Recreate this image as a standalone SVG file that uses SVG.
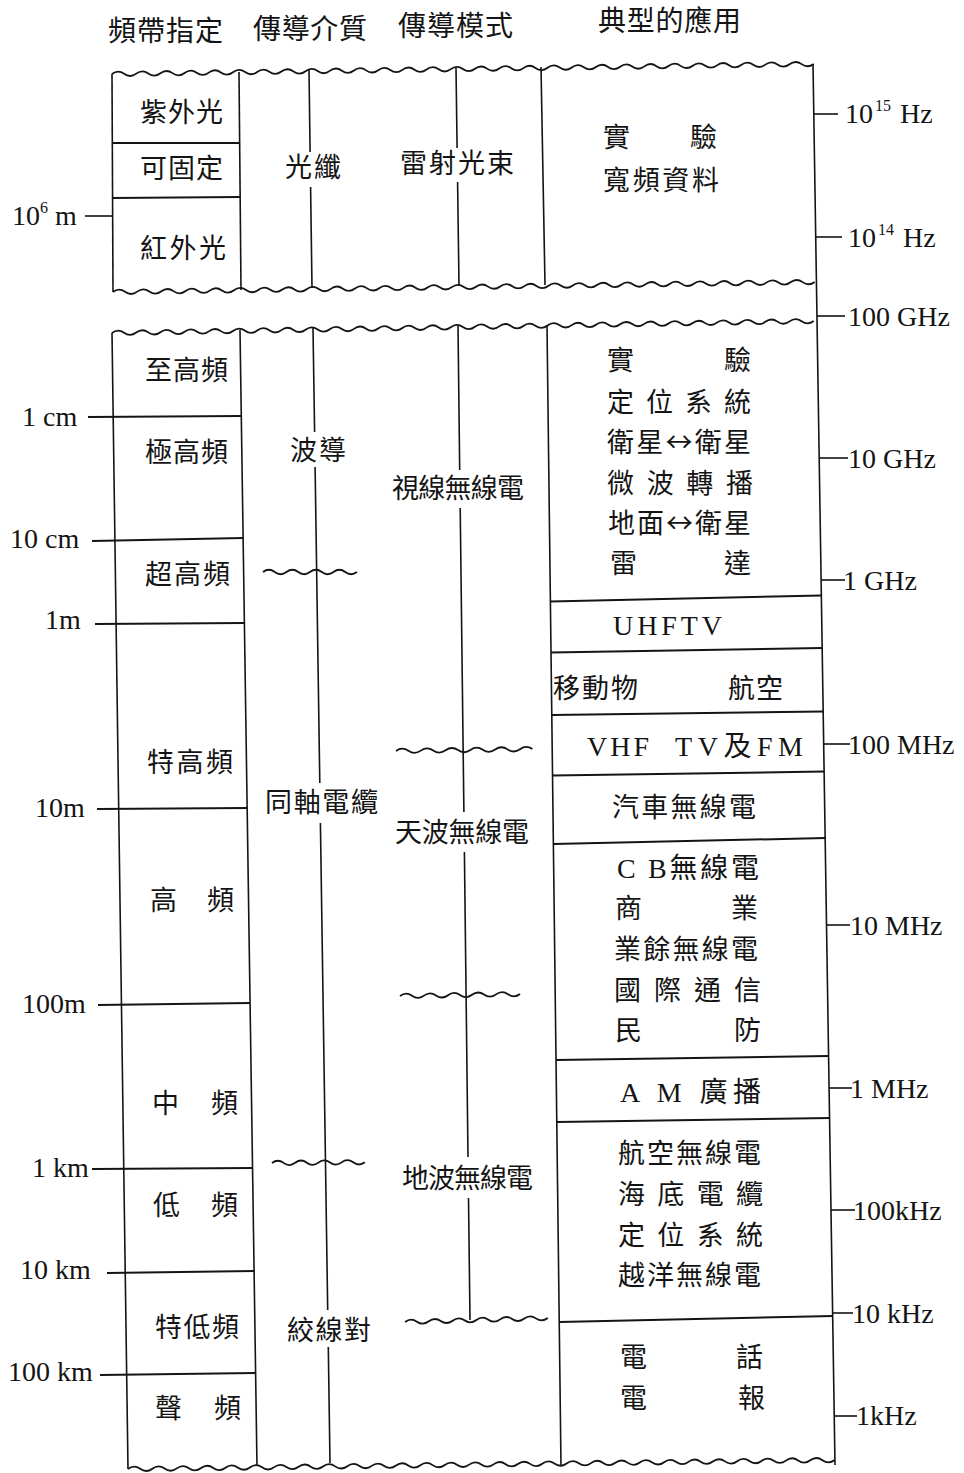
<svg xmlns="http://www.w3.org/2000/svg" xmlns:xlink="http://www.w3.org/1999/xlink" width="964" height="1473" viewBox="0 0 964 1473">
<style>
.cjk{font-family:"Noto Sans CJK TC","Noto Sans CJK SC",sans-serif;font-size:27px;fill:#141414}
.hd{font-family:"Noto Sans CJK TC","Noto Sans CJK SC",sans-serif;font-size:28px;fill:#141414}
.num{font-family:"Liberation Serif","Noto Sans CJK TC",serif;font-size:28px;fill:#141414}
.sup{font-size:16px}
.ln{stroke:#141414;stroke-width:1.6;fill:none}
.dv{stroke:#141414;stroke-width:2;fill:none}
.wv{stroke:#141414;stroke-width:1.8;fill:none}
</style>
<defs>
<path id="wvL" class="wv" d="M0,0 q6.05,-4.5 12.1,0 t12.1,0 t12.1,0 t12.1,0 t12.1,0 t12.1,0 t12.1,0 t12.1,0 t12.1,0 t12.1,0 t12.1,0 t12.1,0 t12.1,0 t12.1,0 t12.1,0 t12.1,0 t12.1,0 t12.1,0 t12.1,0 t12.1,0 t12.1,0 t12.1,0 t12.1,0 t12.1,0 t12.1,0 t12.1,0 t12.1,0 t12.1,0 t12.1,0 t12.1,0 t12.1,0 t12.1,0 t12.1,0 t12.1,0 t12.1,0 t12.1,0 t12.1,0 t12.1,0 t12.1,0 t12.1,0 t12.1,0 t12.1,0 t12.1,0 t12.1,0 t12.1,0 t12.1,0 t12.1,0 t12.1,0 t12.1,0 t12.1,0 t12.1,0 t12.1,0 t12.1,0 t12.1,0 t12.1,0 t12.1,0 t12.1,0 t12.1,0"/>
</defs>
<rect width="964" height="1473" fill="#ffffff"/>

<g id="headers">
<text class="hd" x="108" y="41" textLength="115" lengthAdjust="spacing">頻帶指定</text>
<text class="hd" x="253" y="39" textLength="114" lengthAdjust="spacing">傳導介質</text>
<text class="hd" x="398" y="36" textLength="115" lengthAdjust="spacing">傳導模式</text>
<text class="hd" x="598" y="31" textLength="143" lengthAdjust="spacing">典型的應用</text>
</g>

<g id="frame">
<use xlink:href="#wvL" href="#wvL" transform="translate(112,74) rotate(-0.82)"/>
<use xlink:href="#wvL" href="#wvL" transform="translate(113,292) rotate(-0.82)"/>
<use xlink:href="#wvL" href="#wvL" transform="translate(112,333) rotate(-0.98)"/>
<use xlink:href="#wvL" href="#wvL" transform="translate(128,1469) rotate(-0.73) scale(1.007,1)"/>
<line class="ln" x1="112" y1="74" x2="113" y2="292"/>
<line class="ln" x1="239" y1="72" x2="241" y2="290"/>
<line class="ln" x1="309" y1="70" x2="310.1" y2="152"/>
<line class="ln" x1="310.6" y1="187" x2="312" y2="288"/>
<line class="ln" x1="456" y1="68" x2="457.1" y2="148"/>
<line class="ln" x1="457.6" y1="182" x2="459" y2="286"/>
<line class="ln" x1="541" y1="67" x2="545" y2="285"/>
<line class="dv" x1="112" y1="143" x2="240" y2="143"/>
<line class="dv" x1="112" y1="198" x2="240" y2="197"/>
<line class="ln" x1="813" y1="64" x2="835" y2="1465"/>
<line class="ln" x1="112" y1="333" x2="128" y2="1469"/>
<line class="ln" x1="240" y1="330" x2="257" y2="1466"/>
<line class="ln" x1="313" y1="328" x2="314.6" y2="432"/>
<line class="ln" x1="315.1" y1="467" x2="319.8" y2="783"/>
<line class="ln" x1="320.4" y1="823" x2="327.7" y2="1310"/>
<line class="ln" x1="328.3" y1="1347" x2="330" y2="1463"/>
<line class="ln" x1="458" y1="325" x2="459.7" y2="470"/>
<line class="ln" x1="460.2" y1="508" x2="463.9" y2="812"/>
<line class="ln" x1="464.4" y1="852" x2="468" y2="1157"/>
<line class="ln" x1="468.5" y1="1198" x2="470" y2="1320"/>
<line class="ln" x1="547" y1="325" x2="561" y2="1466"/>
</g>

<g id="breaks">
<path class="wv" d="M263,572 q5.9,-4.5 11.75,0 t11.75,0 t11.75,0 t11.75,0 t11.75,0 t11.75,0 t11.75,0 t11.75,0"/>
<path class="wv" d="M396,751 q6.2,-4.5 12.4,-0.18 t12.4,-0.18 t12.4,-0.18 t12.4,-0.18 t12.4,-0.18 t12.4,-0.18 t12.4,-0.18 t12.4,-0.18 t12.4,-0.18 t12.4,-0.18 t12.4,-0.18"/>
<path class="wv" d="M400,996 q6,-4.5 12,-0.2 t12,-0.2 t12,-0.2 t12,-0.2 t12,-0.2 t12,-0.2 t12,-0.2 t12,-0.2 t12,-0.2 t12,-0.2"/>
<path class="wv" d="M272,1163 q5.8,-4.5 11.6,-0.1 t11.6,-0.1 t11.6,-0.1 t11.6,-0.1 t11.6,-0.1 t11.6,-0.1 t11.6,-0.1 t11.6,-0.1"/>
<path class="wv" d="M405,1322 q6,-4.5 11.9,-0.33 t11.9,-0.33 t11.9,-0.33 t11.9,-0.33 t11.9,-0.33 t11.9,-0.33 t11.9,-0.33 t11.9,-0.33 t11.9,-0.33 t11.9,-0.33 t11.9,-0.33 t11.9,-0.33"/>
</g>

<g id="app-dividers">
<line class="dv" x1="550.4" y1="601.5" x2="821.4" y2="595.5"/>
<line class="dv" x1="551" y1="652.5" x2="822.3" y2="648"/>
<line class="dv" x1="551.8" y1="715" x2="823.4" y2="711.5"/>
<line class="dv" x1="552.5" y1="775.5" x2="824.3" y2="771.5"/>
<line class="dv" x1="553.3" y1="844" x2="825.4" y2="838"/>
<line class="dv" x1="556" y1="1060" x2="828.8" y2="1056"/>
<line class="dv" x1="556.8" y1="1122" x2="829.8" y2="1118"/>
<line class="dv" x1="559.2" y1="1322" x2="832.9" y2="1316"/>
</g>

<g id="wavelength-scale">
<line class="ln" x1="85" y1="216" x2="112" y2="216"/>
<text class="num" x="12" y="225">10<tspan class="sup" dy="-12">6</tspan><tspan dy="12" dx="7">m</tspan></text>
<line class="dv" x1="88" y1="417" x2="241.3" y2="416"/>
<text class="num" x="22" y="426">1 cm</text>
<line class="dv" x1="92" y1="541" x2="243.2" y2="538"/>
<text class="num" x="10" y="548">10 cm</text>
<line class="dv" x1="95" y1="624" x2="244.4" y2="623"/>
<text class="num" x="45" y="629">1m</text>
<line class="dv" x1="97" y1="809" x2="247.2" y2="808"/>
<text class="num" x="35" y="817">10m</text>
<line class="dv" x1="98" y1="1005" x2="250" y2="1003"/>
<text class="num" x="22" y="1013">100m</text>
<line class="dv" x1="92" y1="1169" x2="252.6" y2="1168"/>
<text class="num" x="32" y="1177">1 km</text>
<line class="dv" x1="107" y1="1273" x2="254.1" y2="1271"/>
<text class="num" x="20" y="1279">10 km</text>
<line class="dv" x1="100" y1="1375" x2="255.7" y2="1373"/>
<text class="num" x="8" y="1381">100 km</text>
</g>

<g id="frequency-scale">
<line class="ln" x1="813.8" y1="114" x2="838" y2="114"/>
<text class="num" x="845" y="123">10<tspan class="sup" dy="-12" dx="2">15</tspan><tspan dy="12" dx="2"> Hz</tspan></text>
<line class="ln" x1="815.7" y1="237" x2="842" y2="237"/>
<text class="num" x="848" y="247">10<tspan class="sup" dy="-12" dx="2">14</tspan><tspan dy="12" dx="2"> Hz</tspan></text>
<line class="ln" x1="817" y1="316" x2="845" y2="316"/>
<text class="num" x="848" y="326">100 GHz</text>
<line class="ln" x1="819.2" y1="458" x2="848" y2="458"/>
<text class="num" x="848" y="468">10 GHz</text>
<line class="ln" x1="821.1" y1="580" x2="845" y2="580"/>
<text class="num" x="843" y="590">1 GHz</text>
<line class="ln" x1="823.7" y1="744" x2="850" y2="744"/>
<text class="num" x="848" y="754">100 MHz</text>
<line class="ln" x1="826.5" y1="925" x2="850" y2="925"/>
<text class="num" x="850" y="935">10 MHz</text>
<line class="ln" x1="829.1" y1="1088" x2="852" y2="1088"/>
<text class="num" x="850" y="1098">1 MHz</text>
<line class="ln" x1="831" y1="1210" x2="855" y2="1210"/>
<text class="num" x="853" y="1220">100kHz</text>
<line class="ln" x1="832.6" y1="1313" x2="853" y2="1313"/>
<text class="num" x="852" y="1323">10 kHz</text>
<line class="ln" x1="834.2" y1="1416" x2="857" y2="1416"/>
<text class="num" x="856" y="1425">1kHz</text>
</g>

<g id="bands">
<text class="cjk" x="140" y="122" textLength="83" lengthAdjust="spacing">紫外光</text>
<text class="cjk" x="140" y="178" textLength="83" lengthAdjust="spacing">可固定</text>
<text class="cjk" x="140" y="258" textLength="86" lengthAdjust="spacing">紅外光</text>
<text class="cjk" x="145" y="380" textLength="83" lengthAdjust="spacing">至高頻</text>
<text class="cjk" x="145" y="462" textLength="83" lengthAdjust="spacing">極高頻</text>
<text class="cjk" x="145" y="584" textLength="85" lengthAdjust="spacing">超高頻</text>
<text class="cjk" x="147" y="772" textLength="86" lengthAdjust="spacing">特高頻</text>
<text class="cjk" x="150" y="910" textLength="84" lengthAdjust="spacing">高 頻</text>
<text class="cjk" x="152" y="1113" textLength="86" lengthAdjust="spacing">中 頻</text>
<text class="cjk" x="153" y="1215" textLength="85" lengthAdjust="spacing">低 頻</text>
<text class="cjk" x="155" y="1337" textLength="84" lengthAdjust="spacing">特低頻</text>
<text class="cjk" x="155" y="1418" textLength="86" lengthAdjust="spacing">聲 頻</text>
</g>

<g id="media">
<text class="cjk" x="285" y="177" textLength="56" lengthAdjust="spacing">光纖</text>
<text class="cjk" x="290" y="460" textLength="56" lengthAdjust="spacing">波導</text>
<text class="cjk" x="265" y="812" textLength="113" lengthAdjust="spacing">同軸電纜</text>
<text class="cjk" x="287" y="1340" textLength="84" lengthAdjust="spacing">絞線對</text>
</g>

<g id="modes">
<text class="cjk" x="400" y="173" textLength="114" lengthAdjust="spacing">雷射光束</text>
<text class="cjk" x="392" y="498" textLength="132" lengthAdjust="spacing">視線無線電</text>
<text class="cjk" x="395" y="842" textLength="134" lengthAdjust="spacing">天波無線電</text>
<text class="cjk" x="402" y="1188" textLength="131" lengthAdjust="spacing">地波無線電</text>
</g>

<g id="applications">
<text class="cjk" x="603" y="147" textLength="114" lengthAdjust="spacing">實 驗</text>
<text class="cjk" x="603" y="190" textLength="116" lengthAdjust="spacing">寬頻資料</text>
<text class="cjk" x="607" y="370" textLength="144" lengthAdjust="spacing">實 驗</text>
<text class="cjk" x="607" y="412" textLength="144" lengthAdjust="spacing">定位系統</text>
<text class="cjk" x="607" y="452" textLength="144" lengthAdjust="spacing">衛星↔衛星</text>
<text class="cjk" x="607" y="493" textLength="146" lengthAdjust="spacing">微波轉播</text>
<text class="cjk" x="608" y="533" textLength="143" lengthAdjust="spacing">地面↔衛星</text>
<text class="cjk" x="610" y="573" textLength="141" lengthAdjust="spacing">雷 達</text>
<text class="num" x="613" y="635" textLength="109" lengthAdjust="spacing">UHFTV</text>
<text class="cjk" x="553" y="698" textLength="85" lengthAdjust="spacing">移動物</text>
<text class="cjk" x="728" y="698" textLength="55" lengthAdjust="spacing">航空</text>
<text class="num" x="587" y="756" textLength="62" lengthAdjust="spacing">VHF</text>
<text class="num" x="675" y="756" textLength="128" lengthAdjust="spacing">TV及FM</text>
<text class="cjk" x="612" y="817" textLength="144" lengthAdjust="spacing">汽車無線電</text>
<text class="num" x="617" y="878" textLength="142" lengthAdjust="spacing">C B無線電</text>
<text class="cjk" x="615" y="918" textLength="143" lengthAdjust="spacing">商 業</text>
<text class="cjk" x="614" y="959" textLength="144" lengthAdjust="spacing">業餘無線電</text>
<text class="cjk" x="614" y="1000" textLength="147" lengthAdjust="spacing">國際通信</text>
<text class="cjk" x="615" y="1040" textLength="146" lengthAdjust="spacing">民 防</text>
<text class="num" x="620" y="1102" textLength="141" lengthAdjust="spacing">A M 廣播</text>
<text class="cjk" x="618" y="1163" textLength="143" lengthAdjust="spacing">航空無線電</text>
<text class="cjk" x="618" y="1204" textLength="145" lengthAdjust="spacing">海底電纜</text>
<text class="cjk" x="618" y="1245" textLength="145" lengthAdjust="spacing">定位系統</text>
<text class="cjk" x="618" y="1285" textLength="143" lengthAdjust="spacing">越洋無線電</text>
<text class="cjk" x="620" y="1367" textLength="143" lengthAdjust="spacing">電 話</text>
<text class="cjk" x="620" y="1408" textLength="145" lengthAdjust="spacing">電 報</text>
</g>
</svg>
